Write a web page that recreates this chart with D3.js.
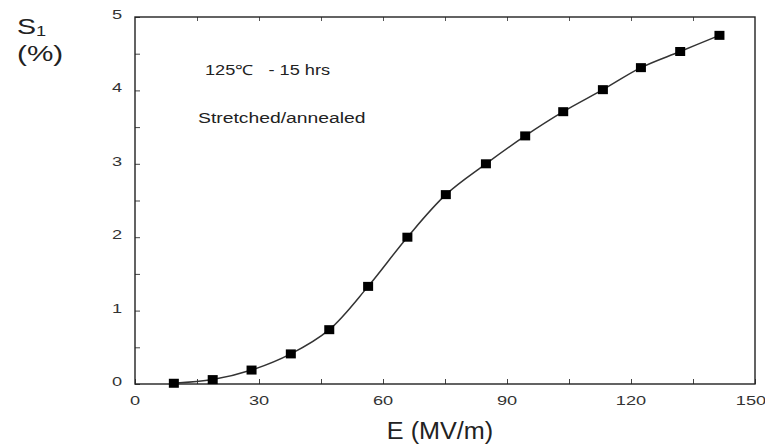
<!DOCTYPE html>
<html>
<head>
<meta charset="utf-8">
<script src="https://cdn.jsdelivr.net/npm/d3@7"></script>
<style>
  body { margin: 0; background: #fff; }
  text { font-family: "Liberation Sans", Arial, sans-serif; }
</style>
</head>
<body>
<div class="chart"></div>
<script>
// field E (MV/m) and strain S1 (%)
var fieldE  = [9.4, 18.8, 28.2, 37.7, 47.0, 56.4, 65.9, 75.2, 84.9, 94.4, 103.6, 113.2, 122.4, 131.9, 141.4];
var strainS = [0.01, 0.06, 0.19, 0.41, 0.74, 1.33, 2.00, 2.58, 3.00, 3.38, 3.71, 4.01, 4.31, 4.53, 4.75];

var xTickLabels = [0, 30, 60, 90, 120, 150];
var xTickMarks  = [0, 15, 30, 45, 60, 75, 90, 105, 120, 135, 150];
var yTickLabels = [0, 1, 2, 3, 4, 5];
var yTickMarks  = [0, 0.5, 1, 1.5, 2, 2.5, 3, 3.5, 4, 4.5, 5];

var notes = ["125\u2103\u00a0\u00a0 - 15 hrs", "Stretched/annealed"];

var W = 765, H = 446;
var margin = {top: 17, right: 10, bottom: 62, left: 135},
    width = W - margin.left - margin.right,
    height = H - margin.top - margin.bottom;

var svg = d3.select(".chart").append("svg")
            .attr("width", W)
            .attr("height", H);

var g = svg.append("g")
           .attr("transform", "translate(" + margin.left + "," + margin.top + ")");

var x = d3.scaleLinear().domain([0, 150]).range([0, width]);
var y = d3.scaleLinear().domain([0, 5]).range([height, 0]);

// text is a bit wide in the scan, so stretch it sideways
function putText(parent, str, px, py, size, sx, anchor, fill) {
    return parent.append("text")
        .attr("transform", "translate(" + px + "," + py + ") scale(" + sx + ",1)")
        .attr("text-anchor", anchor || "start")
        .style("font-size", size + "px")
        .style("fill", fill || "#222")
        .text(str);
}

// ticks (inside the frame)
g.append("g")
 .attr("transform", "translate(0," + height + ")")
 .call(d3.axisBottom(x).tickValues(xTickMarks).tickSize(-5).tickFormat(""))
 .call(function(a){ a.select(".domain").remove(); a.selectAll("line").attr("stroke", "#444"); });

g.append("g")
 .call(d3.axisTop(x).tickValues(xTickMarks.slice(1, -1)).tickSize(-4).tickFormat(""))
 .call(function(a){ a.select(".domain").remove(); a.selectAll("line").attr("stroke", "#555"); });

g.append("g")
 .call(d3.axisLeft(y).tickValues(yTickMarks).tickSize(-5).tickFormat(""))
 .call(function(a){ a.select(".domain").remove(); a.selectAll("line").attr("stroke", "#444"); });

// frame
g.append("rect")
 .attr("width", width)
 .attr("height", height)
 .attr("fill", "none")
 .attr("stroke", "#222")
 .attr("stroke-width", 1.4);

// tick labels
xTickLabels.forEach(function(v, i) {
    var px = x(v);
    if (i == xTickLabels.length - 1) px -= 4;  // keep "150" inside the window
    putText(g, v, px, height + 21, 13, 1.4, "middle", "#333");
});
yTickLabels.forEach(function(v) {
    putText(g, v, -13, y(v) + 2, 13, 1.4, "end", "#333");
});

// axis titles
putText(svg, "E (MV/m)", margin.left + width / 2 - 5, 439, 24, 1.05, "middle", "#222");
var s1 = svg.append("text")
            .attr("transform", "translate(17,34) scale(1.3,1)")
            .style("font-size", "22px")
            .style("fill", "#222");
s1.append("tspan").text("S");
s1.append("tspan").attr("dy", 2).style("font-size", "14px").text("1");
putText(svg, "(%)", 17, 61, 22, 1.35, "start", "#222");

// notes
putText(g, notes[0], 205 - margin.left, 75 - margin.top, 14, 1.3, "start", "#222");
putText(g, notes[1], 198 - margin.left, 123 - margin.top, 14, 1.38, "start", "#222");

// curve + markers
var pts = fieldE.map(function(e, i) { return [e, strainS[i]]; });

var line = d3.line()
             .x(function(d) { return x(d[0]); })
             .y(function(d) { return y(d[1]); })
             .curve(d3.curveCatmullRom.alpha(0.5));

g.append("path")
 .datum(pts)
 .attr("d", line)
 .attr("fill", "none")
 .attr("stroke", "#333")
 .attr("stroke-width", 1.5);

g.selectAll(".pt")
 .data(pts)
 .enter()
 .append("rect")
 .attr("class", "pt")
 .attr("x", function(d) { return x(d[0]) - 5; })
 .attr("y", function(d) { return y(d[1]) - 4.5; })
 .attr("width", 10)
 .attr("height", 9)
 .attr("fill", "#000");
</script>
</body>
</html>
